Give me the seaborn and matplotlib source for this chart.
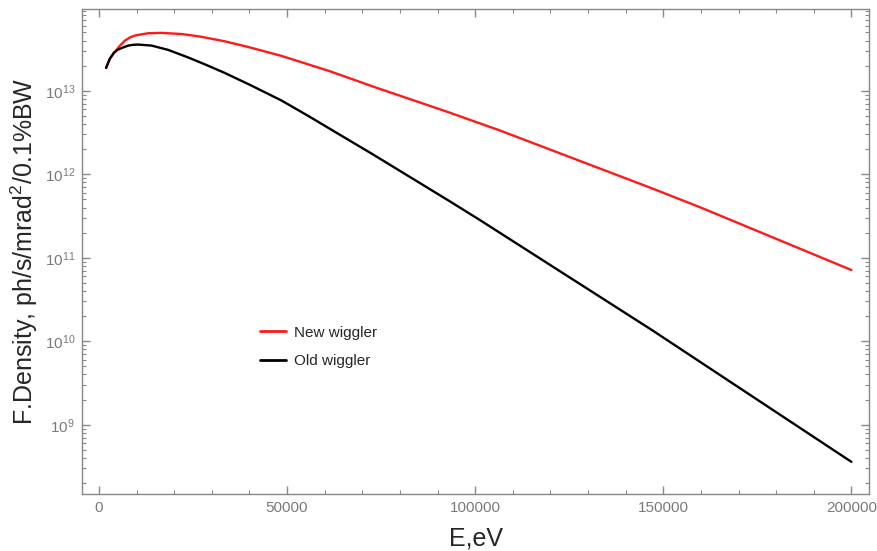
import numpy as np
import pandas as pd
import matplotlib
matplotlib.use("Agg")
import matplotlib.pyplot as plt
import seaborn as sns
from matplotlib.ticker import MultipleLocator, LogLocator

# values (E in eV, flux density)
e_new = [1900, 2900, 4200, 5600, 6900, 8200, 9500, 10900, 13100, 16600, 21900,
         26800, 33400, 40100, 48500, 61300, 73200, 93100, 106400, 146200,
         159400, 200000]
f_new = [1.88e13, 2.43e13, 2.90e13, 3.48e13, 3.99e13, 4.34e13, 4.58e13, 4.71e13,
         4.89e13, 4.94e13, 4.79e13, 4.47e13, 3.92e13, 3.31e13, 2.62e13,
         1.72e13, 1.11e13, 5.50e12, 3.37e12, 7.00e11, 4.09e11, 7.13e10]

e_old = [1900, 2900, 4000, 5100, 6400, 7800, 9000, 10400, 14000, 18400, 23700,
         28100, 33400, 40100, 48500, 55500, 73200, 93100, 101100, 147000, 200000]
f_old = [1.88e13, 2.42e13, 2.87e13, 3.12e13, 3.30e13, 3.48e13, 3.55e13, 3.58e13,
         3.48e13, 3.09e13, 2.51e13, 2.08e13, 1.64e13, 1.18e13, 7.66e12,
         5.04e12, 1.69e12, 4.79e11, 2.86e11, 1.36e10, 3.59e8]

df = pd.concat([
    pd.DataFrame({"E": e_new, "F": f_new, "src": "New wiggler"}),
    pd.DataFrame({"E": e_old, "F": f_old, "src": "Old wiggler"}),
])

sns.set_style("ticks")
plt.rcParams["font.family"] = ["Liberation Sans", "DejaVu Sans"]
plt.rcParams["mathtext.fontset"] = "custom"
plt.rcParams["mathtext.rm"] = "Liberation Sans"

fig = plt.figure(figsize=(8.77, 5.51), dpi=100)
ax = fig.add_axes([0.0935, 0.1034, 0.8975, 0.8803])

sns.lineplot(data=df, x="E", y="F", hue="src", sort=False,
             palette={"New wiggler": "#ff1a1a", "Old wiggler": "black"},
             linewidth=1.7, ax=ax)

ax.set_yscale("log")
ax.set_xlim(-4500, 204700)
ax.set_ylim(10**8.17, 10**13.98)
ax.xaxis.set_major_locator(MultipleLocator(50000))
ax.xaxis.set_minor_locator(MultipleLocator(10000))
ax.yaxis.set_major_locator(LogLocator(base=10, numticks=20))
ax.yaxis.set_minor_locator(LogLocator(base=10, subs=np.arange(2, 10), numticks=20))

gray = "#888888"
for s in ax.spines.values():
    s.set_color(gray)
    s.set_linewidth(1.0)
ax.tick_params(which="both", direction="in", top=True, right=True, color=gray,
               labelcolor="#7a7a7a", labelsize=11)
ax.tick_params(which="major", length=6, width=1, pad=5)
ax.tick_params(which="minor", length=3, width=0.8)

ax.set_xlabel("E,eV", fontsize=18, labelpad=8)
ax.set_ylabel("F.Density, ph/s/mrad$^2$/0.1%BW", fontsize=18, labelpad=3)

leg = ax.legend(loc="center left", bbox_to_anchor=(0.209, 0.303), frameon=False,
                fontsize=11, handlelength=1.7, handletextpad=0.5, labelspacing=0.95)
for line in leg.get_lines():
    line.set_linewidth(2)

fig.savefig("out.png", dpi=100)
